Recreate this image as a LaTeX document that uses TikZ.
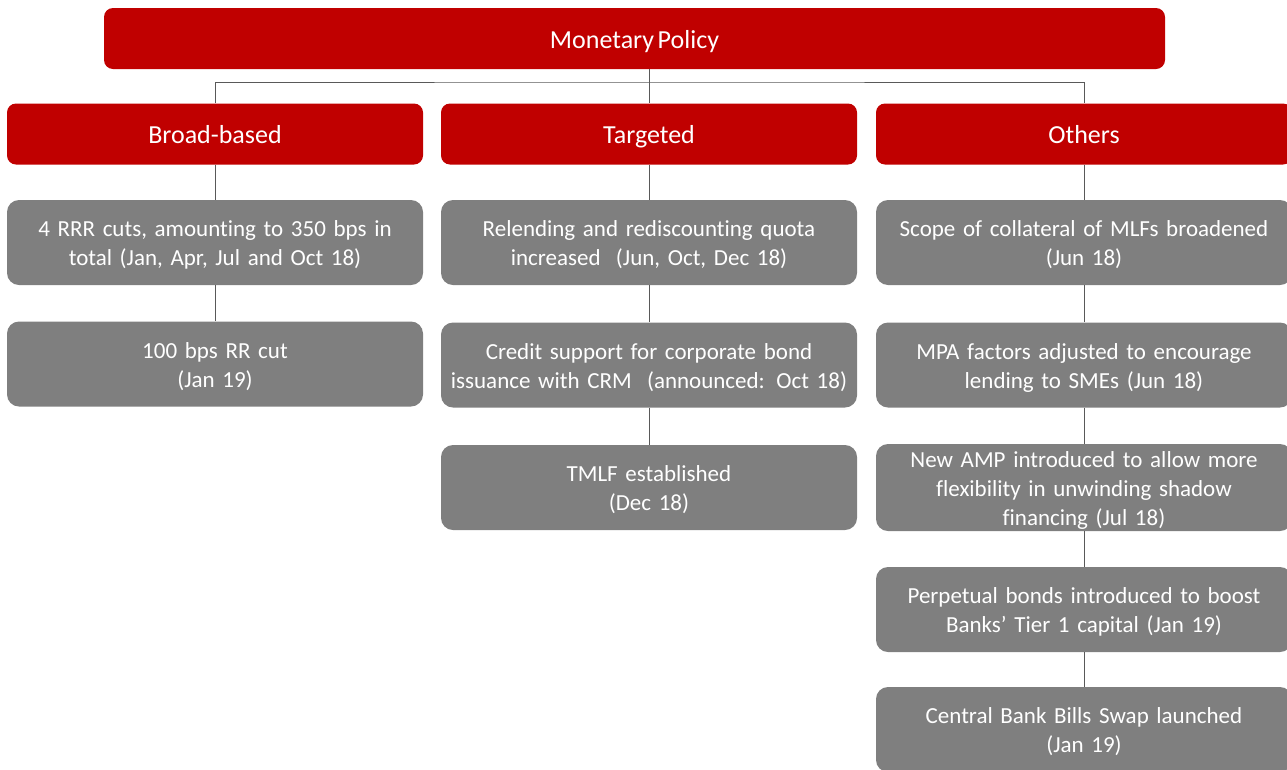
\documentclass[tikz,border=0pt]{standalone}
\usepackage{fontspec}
\setmainfont{Carlito}[Ligatures=NoCommon, WordSpace=0.6]
\definecolor{polred}{HTML}{C00000}
\definecolor{polgrey}{HTML}{7F7F7F}
\begin{document}
\begin{tikzpicture}[x=1pt,y=-1pt,
  headbox/.style={fill=polred, rounded corners=9pt, text=white, inner sep=0pt,
    minimum width=416pt, minimum height=61pt, text height=21pt, text depth=2pt,
    font=\fontsize{26}{31}\selectfont},
  itembox/.style={fill=polgrey, rounded corners=12pt, text=white, inner sep=0pt,
    minimum width=416pt, minimum height=85pt, align=center, text width=410pt,
    font=\fontsize{23}{29}\selectfont,
    execute at begin node={\rule{0pt}{23pt}},
    execute at end node={\rule[-6pt]{0pt}{0pt}}},
  link/.style={draw=black!65, line width=1pt}]
\useasboundingbox (0,0) rectangle (1287,769);
\clip (0,0) rectangle (1287,769);

% root
\node[headbox, minimum width=1061pt, text height=22pt] (root) at (634.5,38.5) {Monetary Policy};

% column headers
\node[headbox] (bb) at (215,134) {Broad-based};
\node[headbox] (tg) at (649,134) {Targeted};
\node[headbox] (ot) at (1084,134) {Others};

% broad-based measures
\node[itembox] (b1) at (215,242.5) {4 RRR cuts, amounting to 350 bps in\\total (Jan, Apr, Jul and Oct 18)};
\node[itembox] (b2) at (215,364) {100 bps RR cut\\(Jan 19)};

% targeted measures
\node[itembox] (t1) at (649,242.5) {Relending and rediscounting quota\\increased\ \ (Jun, Oct, Dec 18)};
\node[itembox] (t2) at (649,365) {Credit support for corporate bond\\issuance with CRM\ \ (announced: Oct 18)};
\node[itembox] (t3) at (649,487.5) {TMLF established\\(Dec 18)};

% other measures
\node[itembox] (o1) at (1084,242.5) {Scope of collateral of MLFs broadened\\(Jun 18)};
\node[itembox] (o2) at (1084,365) {MPA factors adjusted to encourage\\lending to SMEs (Jun 18)};
\node[itembox] (o3) at (1084,487.5) {New AMP introduced to allow more\\flexibility in unwinding shadow\\financing (Jul 18)};
\node[itembox] (o4) at (1084,609.5) {Perpetual bonds introduced to boost\\Banks’ Tier 1 capital (Jan 19)};
\node[itembox] (o5) at (1084,729.5) {Central Bank Bills Swap launched\\(Jan 19)};

% tree connectors
\coordinate (bus) at (649,82);
\draw[link] (root.south -| tg.north) -- (tg.north);
\draw[link] (bb.north) |- (bus) -| (ot.north);
\draw[link] (bb.south) -- (b1.north);
\draw[link] (b1.south) -- (b2.north);
\draw[link] (tg.south) -- (t1.north);
\draw[link] (t1.south) -- (t2.north);
\draw[link] (t2.south) -- (t3.north);
\draw[link] (ot.south) -- (o1.north);
\draw[link] (o1.south) -- (o2.north);
\draw[link] (o2.south) -- (o3.north);
\draw[link] (o3.south) -- (o4.north);
\draw[link] (o4.south) -- (o5.north);
\end{tikzpicture}
\end{document}
